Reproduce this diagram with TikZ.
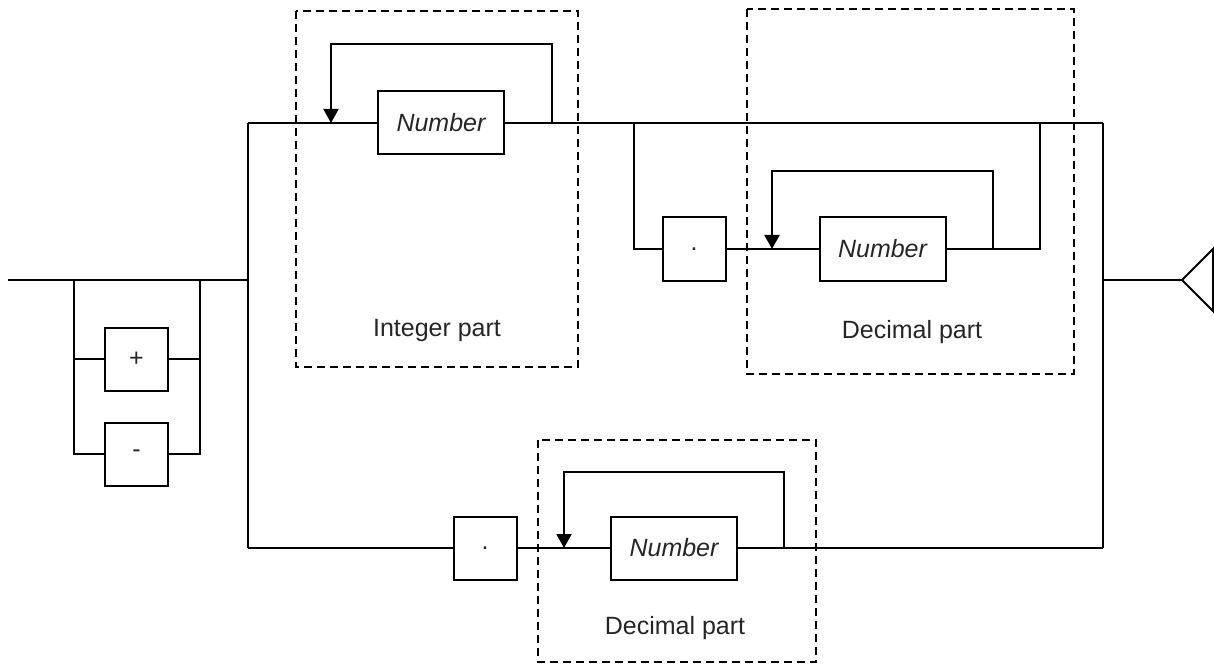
\documentclass[tikz,border=0pt]{standalone}
\usepackage{fontspec}
\setmainfont{Liberation Sans}
\usetikzlibrary{arrows.meta}
\begin{document}
\begin{tikzpicture}[x=1pt,y=-1pt,
  line width=2pt,
  every node/.style={font=\fontsize{25}{30}\selectfont, text=black!85},
  termbox/.style={draw, rectangle, minimum width=63pt, minimum height=63pt, inner sep=0pt},
  numbox/.style={draw, rectangle, minimum width=126pt, minimum height=63pt, inner sep=0pt, font=\fontsize{25}{30}\selectfont\itshape},
  groupbox/.style={draw, line width=1.4pt, dash pattern=on 8pt off 5pt},
  loopback/.style={-{Triangle[width=15pt,length=14pt]}},
  grouplabel/.style={inner sep=0pt}]
\useasboundingbox (0,0) rectangle (1214,668);

% dashed groups
\draw[groupbox] (296,11) rectangle (578,367);
\draw[groupbox] (747,9) rectangle (1074,374);
\draw[groupbox] (538,440) rectangle (816,662);
\node[grouplabel] (lblInt) at (437,330) {Integer part};
\node[grouplabel] (lblDecA) at (912,332) {Decimal part};
\node[grouplabel] (lblDecB) at (675,628) {Decimal part};

% sign choice
\coordinate (entry) at (8,280);
\coordinate (sgnL) at (74,280);
\coordinate (sgnR) at (200,280);
\node[termbox] (plus) at (136.5,359) {+};
\node[termbox] (minus) at (136.5,454) {-};
\draw (entry) -- (248,280);
\draw (sgnL) |- (minus.west);
\draw (sgnL) |- (plus.west);
\draw (sgnR) |- (minus.east);
\draw (sgnR) |- (plus.east);

% main branches
\coordinate (forkT) at (248,123);
\coordinate (forkB) at (248,548);
\coordinate (joinT) at (1103,123);
\coordinate (joinB) at (1103,548);
\coordinate (joinM) at (1103,280);
\draw (forkT) -- (forkB);
\draw (joinT) -- (joinB);

% integer part
\node[numbox] (numInt) at (441,123) {Number};
\coordinate (intTip) at (331,123);
\coordinate (intBack) at (552,123);
\draw (forkT) -- (numInt.west);
\draw (numInt.east) -- (joinT);
\draw[loopback] (intBack) -- (552,44) -| (intTip);

% optional decimal part after integer
\coordinate (decFork) at (634,123);
\coordinate (decJoin) at (1040,123);
\node[termbox] (dotA) at (694,249) {.};
\node[numbox] (numDecA) at (882.5,249) {Number};
\coordinate (decTipA) at (772,249);
\coordinate (decBackA) at (993,249);
\draw (decFork) |- (dotA.west);
\draw (dotA.east) -- (numDecA.west);
\draw (numDecA.east) -| (decJoin);
\draw[loopback] (decBackA) -- (993,171) -| (decTipA);

% decimal only
\node[termbox] (dotB) at (485,548) {.};
\node[numbox] (numDecB) at (674,548) {Number};
\coordinate (decTipB) at (564,548);
\coordinate (decBackB) at (784,548);
\draw (forkB) -- (dotB.west);
\draw (dotB.east) -- (numDecB.west);
\draw (numDecB.east) -- (joinB);
\draw[loopback] (decBackB) -- (784,472) -| (decTipB);

% end marker
\coordinate (endTip) at (1182,280);
\draw (joinM) -- (endTip);
\draw[line join=miter] (endTip) -- (1213,249) -- (1213,311) -- cycle;
\end{tikzpicture}
\end{document}
